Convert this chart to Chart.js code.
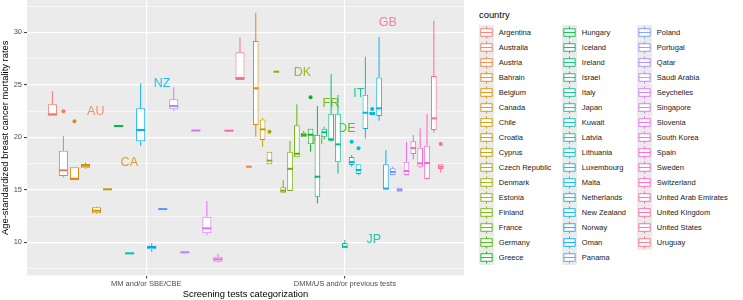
<!DOCTYPE html>
<html>
<head>
<meta charset="utf-8">
<script src="https://cdn.jsdelivr.net/npm/chart.js@4.4.1/dist/chart.umd.min.js"></script>
<style>
  body { margin: 0; background: #fff; font-family: "Liberation Sans", Arial, Helvetica, sans-serif; }
  #wrap { position: relative; width: 743px; height: 300px; overflow: hidden; }
  #plot { position: absolute; left: 0; top: 0; width: 470px; height: 300px; }
  .legend-title { position: absolute; left: 479px; top: 9px; font-size: 9.4px; line-height: 12px; color: #000; font-weight: normal; }
  .key { position: absolute; width: 15px; height: 15.03px; }
  .key-label { position: absolute; font-size: 7.5px; line-height: 15px; color: #1a1a1a; white-space: nowrap; }
</style>
</head>
<body>
<div id="wrap">
  <div id="plot"><canvas id="chart"></canvas></div>
  <div id="legend"></div>
</div>
<script>
const categories = ["MM and/or SBE/CBE", "DMM/US and/or previous tests"];

const countries = [
  "Argentina", "Australia", "Austria", "Bahrain", "Belgium", "Canada", "Chile", "Croatia",
  "Cyprus", "Czech Republic", "Denmark", "Estonia", "Finland", "France", "Germany", "Greece",
  "Hungary", "Iceland", "Ireland", "Israel", "Italy", "Japan", "Kuwait", "Latvia",
  "Lithuania", "Luxembourg", "Malta", "Netherlands", "New Zealand", "Norway", "Oman", "Panama",
  "Poland", "Portugal", "Qatar", "Saudi Arabia", "Seychelles", "Singapore", "Slovenia", "South Korea",
  "Spain", "Sweden", "Switzerland", "United Arab Emirates", "United Kingdom", "United States", "Uruguay"
];

// 0 = MM and/or SBE/CBE, 1 = DMM/US and/or previous tests
const screening = [
  0, 0, 1, 0, 1, 0, 0, 1, 0, 1, 1, 1, 1, 1, 1, 1,
  0, 1, 1, 1, 1, 1, 0, 1, 1, 1, 1, 1, 0, 1, 0, 0,
  1, 1, 0, 0, 0, 0, 1, 0, 1, 1, 1, 0, 1, 1, 0
];

const whiskerLow = [
  22.06, 16.2, 17.2, 15.93, 20.06, 17.0, 12.7, 19.1, 15.05, 17.43, 26.25, 14.7, 14.89, 18.1, 20.0, 18.63,
  21.08, 13.71, 19.8, 19.6, 16.53, 9.43, 8.9, 17.2, 16.4, 19.9, 22.12, 21.58, 19.2, 15.08, 9.1, 13.17,
  16.4, 14.82, 22.5, 9.05, 20.65, 10.67, 16.41, 8.1, 17.9, 17.1, 16.0, 20.63, 20.44, 16.63, 25.46
];
const lowerQuartile = [
  22.06, 16.31, 17.2, 15.93, 21.17, 17.1, 12.76, 19.74, 15.05, 17.43, 26.25, 14.73, 14.89, 18.1, 20.0, 19.33,
  21.08, 14.34, 20.06, 19.68, 17.62, 9.43, 8.9, 17.36, 16.5, 20.79, 22.12, 22.03, 19.62, 15.08, 9.33, 13.17,
  16.41, 14.82, 22.67, 9.05, 20.65, 10.86, 16.41, 8.15, 18.41, 17.2, 16.03, 20.63, 20.7, 16.98, 25.46
];
const median = [
  22.2, 16.86, 17.2, 16.06, 24.67, 17.3, 13.01, 20.76, 15.05, 17.78, 26.25, 14.92, 17.0, 18.44, 20.22, 20.25,
  21.08, 16.25, 20.48, 19.81, 19.33, 9.58, 8.95, 17.65, 16.89, 22.34, 22.3, 22.76, 20.7, 15.12, 9.55, 13.17,
  16.7, 15.0, 22.98, 9.05, 20.65, 11.33, 16.79, 8.38, 18.98, 17.52, 17.55, 20.63, 21.81, 17.2, 25.65
];
const upperQuartile = [
  23.14, 18.72, 17.2, 17.14, 29.17, 17.46, 13.33, 21.71, 15.05, 18.63, 26.25, 15.24, 18.63, 21.14, 20.44, 20.82,
  21.08, 20.25, 20.82, 22.25, 22.25, 9.93, 9.0, 18.12, 17.43, 24.06, 22.44, 25.71, 22.76, 17.43, 9.68, 13.17,
  17.05, 15.2, 23.62, 9.05, 20.65, 12.44, 17.68, 8.63, 19.62, 19.01, 19.2, 20.63, 25.84, 17.43, 28.1
];
const whiskerHigh = [
  24.4, 20.12, 17.2, 17.14, 31.87, 17.6, 13.4, 21.85, 15.05, 18.63, 26.25, 15.93, 19.65, 23.14, 20.6, 20.82,
  21.08, 22.98, 21.0, 26.03, 24.03, 10.22, 9.0, 18.3, 17.43, 27.68, 22.44, 29.58, 25.14, 18.79, 9.9, 13.17,
  17.2, 15.2, 24.76, 9.05, 20.65, 13.93, 19.58, 8.9, 20.22, 20.86, 22.22, 20.63, 31.1, 17.43, 29.49
];
const outliers = {
  "Australia": [22.48], "Bahrain": [21.52], "Czech Republic": [20.53], "Greece": [23.81],
  "Latvia": [19.58], "Lithuania": [18.95], "Malta": [22.7], "United States": [19.36]
};

const yTicks = [7.5, 10, 12.5, 15, 17.5, 20, 22.5, 25, 27.5, 30, 32.5];

const labelText = ["AU", "CA", "NZ", "DK", "FI", "FR", "DE", "IT", "JP", "GB"];
const labelCountry = ["Australia", "Canada", "New Zealand", "Denmark", "Finland", "France", "Germany", "Italy", "Japan", "United Kingdom"];
const labelX = [0.746, 0.915, 1.08, 1.786, 1.864, 1.93, 2.01, 2.07, 2.146, 2.216];
const labelY = [22.44, 17.62, 25.14, 26.19, 19.74, 23.24, 20.86, 24.15, 10.29, 30.98];

// ggplot2 default hue palette (hcl, c = 100, l = 65)
function hueColor(h) {
  const c = 100, l = 65;
  const Xn = 95.047, Yn = 100, Zn = 108.883;
  const den = Xn + 15 * Yn + 3 * Zn;
  const un = 4 * Xn / den, vn = 9 * Yn / den;
  const hr = h * Math.PI / 180;
  const Y = Yn * Math.pow((l + 16) / 116, 3);
  const up = c * Math.cos(hr) / (13 * l) + un;
  const vp = c * Math.sin(hr) / (13 * l) + vn;
  const X = 9 * Y * up / (4 * vp);
  const Z = -X / 3 - 5 * Y + 3 * Y / vp;
  const lin = [
    3.240479 * X - 1.537150 * Y - 0.498535 * Z,
    -0.969256 * X + 1.875992 * Y + 0.041556 * Z,
    0.055648 * X - 0.204043 * Y + 1.057311 * Z
  ].map(v => v / 100);
  const rgb = lin.map(v => {
    const g = v <= 0.0031308 ? 12.92 * v : 1.055 * Math.pow(v, 1 / 2.4) - 0.055;
    return Math.round(Math.min(1, Math.max(0, g)) * 255);
  });
  return "#" + rgb.map(v => v.toString(16).padStart(2, "0")).join("");
}

const colors = countries.map((_, i) => hueColor(15 + i * 360 / countries.length));

// dodge: every country gets an equal slot inside its category
const dodgeWidth = 1.0;
const positions = countries.map((_, i) => {
  const cat = screening[i];
  const members = countries.filter((_, j) => screening[j] === cat);
  const k = members.indexOf(countries[i]);
  return cat + 1 - dodgeWidth / 2 + (k + 0.5) * dodgeWidth / members.length;
});

const font = "'Liberation Sans', Arial, Helvetica, sans-serif";

const datasets = countries.map((name, i) => ({
  label: name,
  countryIndex: i,
  xAxisID: screening[i] === 0 ? "x" : "x2",
  data: [{ x: positions[i], y: [lowerQuartile[i], upperQuartile[i]] }],
  backgroundColor: "#ffffff",
  borderColor: colors[i],
  borderWidth: 1,
  borderSkipped: false,
  grouped: false,
  categoryPercentage: 1,
  barPercentage: 0.82
}));

const boxplotParts = {
  id: "boxplotParts",
  beforeDraw(chart) {
    const { ctx, chartArea: a } = chart;
    ctx.save();
    ctx.fillStyle = "#EBEBEB";
    ctx.fillRect(a.left, a.top, a.right - a.left, a.bottom - a.top);
    ctx.restore();
  },
  beforeDatasetsDraw(chart) {
    const { ctx } = chart;
    const xs = chart.scales.x, ys = chart.scales.y;
    ctx.save();
    ctx.font = "12.5px " + font;
    ctx.textAlign = "center";
    ctx.textBaseline = "middle";
    ctx.globalAlpha = 0.85;
    labelText.forEach((t, i) => {
      ctx.fillStyle = colors[countries.indexOf(labelCountry[i])];
      ctx.fillText(t, xs.getPixelForValue(labelX[i]), ys.getPixelForValue(labelY[i]));
    });
    ctx.restore();
  },
  afterDatasetsDraw(chart) {
    const { ctx } = chart;
    const ys = chart.scales.y;
    ctx.save();
    chart.data.datasets.forEach((ds, d) => {
      const i = ds.countryIndex;
      const bar = chart.getDatasetMeta(d).data[0];
      const xc = bar.x, hw = bar.width / 2;
      ctx.strokeStyle = colors[i];
      ctx.fillStyle = colors[i];
      ctx.lineWidth = 1;
      ctx.beginPath();
      ctx.moveTo(xc, ys.getPixelForValue(upperQuartile[i]));
      ctx.lineTo(xc, ys.getPixelForValue(whiskerHigh[i]));
      ctx.moveTo(xc, ys.getPixelForValue(lowerQuartile[i]));
      ctx.lineTo(xc, ys.getPixelForValue(whiskerLow[i]));
      ctx.stroke();
      ctx.lineWidth = 2;
      ctx.beginPath();
      const ym = ys.getPixelForValue(median[i]);
      ctx.moveTo(xc - hw, ym);
      ctx.lineTo(xc + hw, ym);
      ctx.stroke();
      (outliers[countries[i]] || []).forEach(v => {
        ctx.beginPath();
        ctx.arc(xc, ys.getPixelForValue(v), 2, 0, Math.PI * 2);
        ctx.fill();
      });
    });
    ctx.restore();
  }
};

new Chart(document.getElementById("chart"), {
  type: "bar",
  data: { datasets },
  options: {
    responsive: true,
    maintainAspectRatio: false,
    animation: false,
    events: [],
    layout: { padding: { left: 0, right: 6, top: 0, bottom: 0 } },
    plugins: { legend: { display: false }, tooltip: { enabled: false } },
    scales: {
      x: {
        type: "linear",
        min: 0.4,
        max: 2.6,
        offset: false,
        afterBuildTicks: s => { s.ticks = categories.map((_, i) => ({ value: i + 1 })); },
        afterFit: s => { s.height = 24.5; s.paddingLeft = 0; s.paddingRight = 0; },
        ticks: {
          autoSkip: false,
          maxRotation: 0,
          padding: 1,
          color: "#4D4D4D",
          font: { family: font, size: 7.5 },
          callback: v => categories[v - 1]
        },
        grid: { offset: false, color: "#ffffff", lineWidth: 1.2, tickLength: 3, tickColor: "#333333", tickWidth: 1 },
        border: { display: false },
        title: {
          display: true,
          text: "Screening tests categorization",
          color: "#000000",
          font: { family: font, size: 9.4 },
          padding: { top: 0, bottom: 0 }
        }
      },
      x2: {
        type: "linear",
        display: false,
        offset: false,
        grid: { offset: false },
        min: 0.4,
        max: 2.6
      },
      y: {
        min: 6.84,
        max: 33.08,
        afterBuildTicks: s => { s.ticks = yTicks.map(v => ({ value: v })); },
        afterFit: s => { s.width = 27; s.paddingTop = 0; s.paddingBottom = 0; },
        ticks: {
          padding: 2,
          color: "#4D4D4D",
          font: { family: font, size: 7.5 },
          callback: v => (v % 5 === 0 ? String(v) : "")
        },
        grid: {
          color: "#ffffff",
          lineWidth: c => (c.tick && c.tick.value % 5 === 0 ? 1.2 : 0.6),
          tickLength: 3,
          tickWidth: 1,
          tickColor: c => (c.tick && c.tick.value % 5 === 0 ? "#333333" : "rgba(0,0,0,0)")
        },
        border: { display: false },
        title: {
          display: true,
          text: "Age-standardized breast cancer mortality rates",
          color: "#000000",
          font: { family: font, size: 9.4 },
          padding: { top: 0, bottom: 0 }
        }
      }
    }
  },
  plugins: [boxplotParts]
});

// legend, three columns of boxplot keys
const legend = document.getElementById("legend");
const title = document.createElement("div");
title.className = "legend-title";
title.textContent = "country";
legend.appendChild(title);

const colLeft = [478.5, 561.5, 636.5];
const perCol = 16;
countries.forEach((name, i) => {
  const col = Math.floor(i / perCol), row = i % perCol;
  const top = 24.8 + row * 15.03;
  const key = document.createElement("div");
  key.className = "key";
  key.style.left = colLeft[col] + "px";
  key.style.top = top + "px";
  key.innerHTML =
    '<svg width="15" height="15.03" viewBox="0 0 15 15">' +
    '<rect x="0" y="0" width="15" height="15" fill="#EBEBEB"/>' +
    '<g stroke="' + colors[i] + '" stroke-width="0.9" fill="none">' +
    '<line x1="7.5" y1="1.5" x2="7.5" y2="3.75"/>' +
    '<line x1="7.5" y1="11.25" x2="7.5" y2="13.5"/>' +
    '<rect x="1.875" y="3.75" width="11.25" height="7.5" fill="#ffffff"/>' +
    '<line x1="1.875" y1="7.5" x2="13.125" y2="7.5"/>' +
    '</g></svg>';
  legend.appendChild(key);
  const label = document.createElement("div");
  label.className = "key-label";
  label.style.left = (colLeft[col] + 20.3) + "px";
  label.style.top = top + "px";
  label.textContent = name;
  legend.appendChild(label);
});
</script>
</body>
</html>
